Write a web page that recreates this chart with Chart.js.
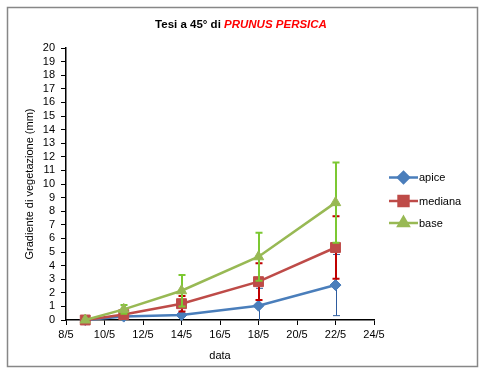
<!DOCTYPE html>
<html>
<head>
<meta charset="utf-8">
<script src="https://cdn.jsdelivr.net/npm/chart.js@4/dist/chart.umd.min.js"></script>
<style>
  html, body { margin: 0; padding: 0; background: #fff; }
  #wrap { width: 488px; height: 375px; position: relative; }
</style>
</head>
<body>
<div id="wrap"><canvas id="c" width="488" height="375"></canvas></div>
<script>
// ---- data (day of May) ----
const days = [9, 11, 14, 18, 22];
const seriesNames = ['apice', 'mediana', 'base'];
const apice = [0, 0.25, 0.37, 1.05, 2.57];
const mediana = [0, 0.4, 1.2, 2.82, 5.33];
const base = [0, 0.78, 2.15, 4.65, 8.63];
const apiceErr = [0, 0.05, 0.1, 1.28, 2.25];
const medianaErr = [0, 0.1, 0.57, 1.35, 2.3];
const baseErr = [0, 0.32, 1.15, 1.77, 2.95];
const xTickDays = [8, 10, 12, 14, 16, 18, 20, 22, 24];
const titleA = 'Tesi a 45° di ';
const titleB = 'PRUNUS PERSICA';
const yTitle = 'Gradiente di vegetazione (mm)';
const xTitle = 'data';

const FONT = "'Liberation Sans', Arial, sans-serif";
const lineColors = ['#4A7EBB', '#BE4B48', '#98B954'];
const errColors = ['#2E5C9E', '#C00000', '#7CC832'];
const errWidths = [1, 2, 2];
const styles = ['rectRot', 'rect', 'triangle'];
const radii = [5.5, 7, 6];
const values = [apice, mediana, base];
const errors = [apiceErr, medianaErr, baseErr];

function pts(vals) { return days.map((d, i) => ({ x: d, y: vals[i] })); }

const frame = {
  id: 'frame',
  beforeDraw(chart) {
    const c = chart.ctx;
    c.save();
    c.fillStyle = '#fff';
    c.fillRect(0, 0, chart.width, chart.height);
    c.strokeStyle = '#878787';
    c.lineWidth = 1.5;
    c.strokeRect(7.5, 7.5, 470, 359);
    c.restore();
  },
  afterDraw(chart) {
    const c = chart.ctx;
    c.save();
    // title with mixed styles
    const fa = 'bold 11.5px ' + FONT;
    const fb = 'italic bold 11.5px ' + FONT;
    c.font = fa; const wa = c.measureText(titleA).width;
    c.font = fb; const wb = c.measureText(titleB).width;
    const x0 = 241 - (wa + wb) / 2;
    c.textBaseline = 'middle';
    c.textAlign = 'left';
    c.font = fa; c.fillStyle = '#000'; c.fillText(titleA, x0, 25);
    c.font = fb; c.fillStyle = '#FF0000'; c.fillText(titleB, x0 + wa, 25);
    // legend
    const ly = [177.5, 201, 223];
    for (let i = 0; i < 3; i++) {
      c.strokeStyle = lineColors[i];
      c.lineWidth = 2.5;
      c.beginPath(); c.moveTo(389, ly[i]); c.lineTo(418, ly[i]); c.stroke();
      Chart.helpers.drawPoint(c, { pointStyle: styles[i], radius: radii[i], borderWidth: 1, rotation: 0 }, 403.5, ly[i]);
      c.fillStyle = lineColors[i];
      c.fill();
      c.fillStyle = '#000';
      c.font = '11px ' + FONT;
      c.fillText(seriesNames[i], 419, ly[i] + 0.5);
    }
    c.restore();
  }
};

const errPlugin = {
  id: 'errbars',
  beforeDatasetDraw(chart, args) {
    const i = args.index;
    const xs = chart.scales.x, ys = chart.scales.y;
    const a = chart.chartArea;
    const c = chart.ctx;
    c.save();
    c.beginPath(); c.rect(a.left, a.top - 5, a.right - a.left, a.bottom - a.top + 5); c.clip();
    c.strokeStyle = errColors[i];
    c.lineWidth = errWidths[i];
    days.forEach((d, k) => {
      const e = errors[i][k];
      if (!e) return;
      const x = Math.round(xs.getPixelForValue(d)) + (errWidths[i] === 1 ? 0.5 : 0);
      const yt = ys.getPixelForValue(values[i][k] + e);
      const yb = ys.getPixelForValue(values[i][k] - e);
      c.beginPath();
      c.moveTo(x, yt); c.lineTo(x, yb);
      c.moveTo(x - 3.5, yt); c.lineTo(x + 3.5, yt);
      c.moveTo(x - 3.5, yb); c.lineTo(x + 3.5, yb);
      c.stroke();
    });
    c.restore();
  }
};

new Chart(document.getElementById('c'), {
  type: 'line',
  data: {
    datasets: seriesNames.map((n, i) => ({
      label: n,
      data: pts(values[i]),
      borderColor: lineColors[i],
      backgroundColor: lineColors[i],
      pointBackgroundColor: lineColors[i],
      pointBorderColor: lineColors[i],
      pointStyle: styles[i],
      pointRadius: radii[i],
      pointBorderWidth: 1,
      borderWidth: 2.5,
      tension: 0,
      clip: false,
      order: 3 - i
    }))
  },
  options: {
    responsive: false,
    animation: false,
    events: [],
    layout: { padding: { left: 0, top: 48, right: 114, bottom: 0 } },
    plugins: { legend: { display: false }, title: { display: false }, tooltip: { enabled: false } },
    scales: {
      x: {
        type: 'linear',
        min: xTickDays[0], max: xTickDays[xTickDays.length - 1],
        afterBuildTicks(s) { s.ticks = xTickDays.map(v => ({ value: v })); },
        afterFit(s) { s.height = 55; },
        ticks: { callback: v => v + '/5', color: '#000', font: { family: FONT, size: 11 }, padding: 3, maxRotation: 0, autoSkip: false },
        grid: { drawOnChartArea: false, drawTicks: true, tickLength: 5, color: '#000', lineWidth: 1 },
        border: { color: '#000', width: 1.5 },
        title: { display: true, text: xTitle, color: '#000', font: { family: FONT, size: 11 }, padding: { top: 0, bottom: 12 } }
      },
      y: {
        min: 0, max: 20,
        ticks: { stepSize: 1, autoSkip: false, color: '#000', font: { family: FONT, size: 11 }, padding: 6 },
        afterFit(s) { s.width = 66; },
        grid: { drawOnChartArea: false, drawTicks: true, tickLength: 5, color: '#000', lineWidth: 1 },
        border: { color: '#000', width: 1.5 },
        title: { display: true, text: yTitle, color: '#000', font: { family: FONT, size: 11 }, padding: { top: 23, bottom: 0 } }
      }
    }
  },
  plugins: [frame, errPlugin]
});
</script>
</body>
</html>
